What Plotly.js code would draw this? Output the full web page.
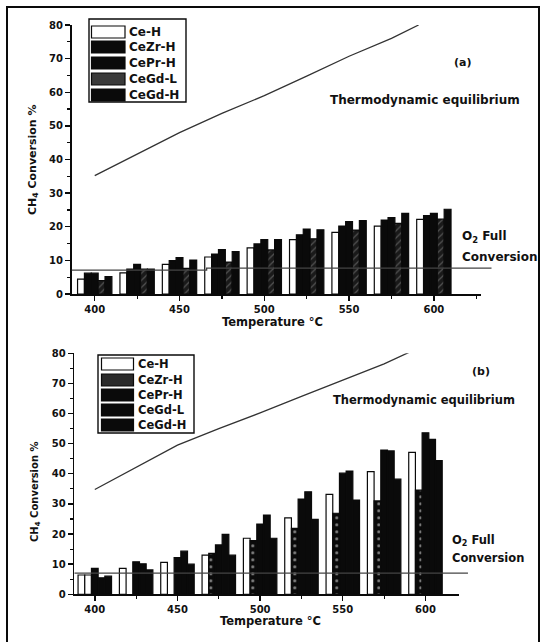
<!DOCTYPE html>
<html>
<head>
<meta charset="utf-8">
<script src="https://cdn.plot.ly/plotly-3.0.1.min.js"></script>
<style>html,body{margin:0;padding:0;background:#fff;}#chart{width:547px;height:642px;}</style>
</head>
<body>
<div id="chart"></div>
<script>
// ---------- data ----------
const temps = [400, 425, 450, 475, 500, 525, 550, 575, 600];
const seriesNames = ["Ce-H", "CeZr-H", "CePr-H", "CeGd-L", "CeGd-H"];

// panel (a)
const a_CeH   = [4.4, 6.3, 8.8, 11.0, 13.7, 16.2, 18.3, 20.2, 22.2];
const a_CeZrH = [6.2, 7.4, 9.9, 11.9, 14.9, 17.6, 20.2, 22.0, 23.3];
const a_CePrH = [6.2, 8.8, 10.8, 13.2, 16.2, 19.3, 21.5, 22.7, 24.0];
const a_CeGdL = [4.0, 7.4, 7.6, 9.5, 13.1, 16.4, 19.0, 21.0, 22.3];
const a_CeGdH = [5.2, 7.4, 10.1, 12.6, 16.2, 19.1, 21.8, 24.0, 25.2];

// panel (b)
const b_CeH   = [6.4, 8.6, 10.6, 13.0, 18.6, 25.4, 33.2, 40.7, 47.1];
const b_CeZrH = [6.4, null, null, 13.6, 17.8, 21.9, 26.9, 31.0, 34.6];
const b_CePrH = [8.6, 10.8, 12.2, 16.4, 23.3, 31.6, 40.2, 47.9, 53.6];
const b_CeGdL = [5.5, 10.1, 14.3, 19.9, 26.3, 34.0, 40.9, 47.6, 51.4];
const b_CeGdH = [6.0, 8.1, 10.0, 13.0, 18.6, 24.9, 31.3, 38.2, 44.4];

// thermodynamic equilibrium curves
const a_thermoT = [400, 425, 450, 475, 500, 525, 550, 575, 591];
const a_thermoV = [35.2, 41.7, 48.0, 53.7, 59.0, 64.8, 70.7, 76.0, 80.0];
const b_thermoT = [400, 425, 450, 475, 500, 525, 550, 575, 590];
const b_thermoV = [34.8, 42.2, 49.5, 55.0, 60.2, 65.7, 71.1, 76.5, 80.3];

// O2 full conversion lines
const a_o2T = [386.3, 466, 466, 634];
const a_o2V = [7.1, 7.1, 7.7, 7.7];
const b_o2T = [387.6, 625.7];
const b_o2V = [7.0, 7.0];

// ---------- helpers ----------
const W = 547, H = 642;
const px = v => v / W;
const py = v => 1 - v / H;
const FONT = "DejaVu Sans, Liberation Sans, Arial, sans-serif";
const BLACK = "#0a0a0a";

function bar(name, x, y, xa, ya, fill, pattern) {
  const t = {
    type: "bar", name: name, x: x, y: y, xaxis: xa, yaxis: ya,
    showlegend: false,
    marker: { color: fill, line: { color: BLACK, width: 1.2 } },
    hoverinfo: "x+y+name"
  };
  if (pattern) t.marker.pattern = pattern;
  return t;
}

const zebra = temps.map((t, i) => i === 0 ? "white" : BLACK);
const dotShape = temps.map((t, i) => i === 0 ? "" : ".");

const traces = [
  bar("Ce-H", temps, a_CeH, "x", "y", "white"),
  bar("CeZr-H", temps, a_CeZrH, "x", "y", BLACK),
  bar("CePr-H", temps, a_CePrH, "x", "y", BLACK),
  bar("CeGd-L", temps, a_CeGdL, "x", "y", "#1a1a1a", { shape: "/", fgcolor: "#8a8a8a", fillmode: "overlay", size: 5, solidity: 0.25 }),
  bar("CeGd-H", temps, a_CeGdH, "x", "y", BLACK),
  { type: "scatter", mode: "lines", x: a_thermoT, y: a_thermoV, xaxis: "x", yaxis: "y", showlegend: false,
    line: { color: "#333", width: 1.3 }, name: "Thermodynamic equilibrium" },
  { type: "scatter", mode: "lines", x: a_o2T, y: a_o2V, xaxis: "x3", yaxis: "y3", showlegend: false,
    line: { color: "#444", width: 1.3 }, name: "O2 Full Conversion" },

  bar("Ce-H", temps, b_CeH, "x2", "y2", "white"),
  bar("CeZr-H", temps, b_CeZrH, "x2", "y2", zebra,
      { shape: dotShape, fgcolor: "#808080", fillmode: "overlay", size: 7, solidity: 0.15 }),
  bar("CePr-H", temps, b_CePrH, "x2", "y2", BLACK),
  bar("CeGd-L", temps, b_CeGdL, "x2", "y2", BLACK),
  bar("CeGd-H", temps, b_CeGdH, "x2", "y2", BLACK),
  { type: "scatter", mode: "lines", x: b_thermoT, y: b_thermoV, xaxis: "x2", yaxis: "y2", showlegend: false,
    line: { color: "#333", width: 1.3 }, name: "Thermodynamic equilibrium" },
  { type: "scatter", mode: "lines", x: b_o2T, y: b_o2V, xaxis: "x4", yaxis: "y4", showlegend: false,
    line: { color: "#444", width: 1.3 }, name: "O2 Full Conversion" }
];

const tickfont = { family: FONT, size: 10, color: "#111", weight: "bold" };
function xAxis(domain, range, anchor) {
  return {
    domain: domain, range: range, anchor: anchor,
    showline: true, linecolor: BLACK, linewidth: 1.6,
    ticks: "outside", ticklen: 5, tickwidth: 1.4, tickcolor: BLACK,
    tick0: 400, dtick: 50, tickfont: tickfont,
    minor: { ticks: "outside", dtick: 25, ticklen: 3, tickwidth: 1.2, tickcolor: BLACK },
    showgrid: false, zeroline: false, fixedrange: true
  };
}
function yAxis(domain, anchor) {
  return {
    domain: domain, range: [0, 80], anchor: anchor,
    showline: true, linecolor: BLACK, linewidth: 1.6,
    ticks: "outside", ticklen: 5, tickwidth: 1.4, tickcolor: BLACK,
    tick0: 0, dtick: 10, tickfont: tickfont,
    minor: { ticks: "outside", dtick: 5, ticklen: 3, tickwidth: 1.2, tickcolor: BLACK },
    showgrid: false, zeroline: false, fixedrange: true
  };
}
// invisible helper axes (same scale) so the O2 reference lines can run past the axis end
function hiddenAxis(domain, range, anchor) {
  return { domain: domain, range: range, anchor: anchor, visible: false, fixedrange: true,
           showgrid: false, zeroline: false };
}

function txt(text, x, y, size, opts) {
  return Object.assign({
    text: text, x: px(x), y: py(y), xref: "paper", yref: "paper",
    showarrow: false, xanchor: "center", yanchor: "middle",
    font: { family: FONT, size: size, color: "#111" }
  }, opts || {});
}

const annotations = [
  // panel (a)
  txt("<b>CH<sub>4</sub> Conversion %</b>", 33, 160, 11, { textangle: -90 }),
  txt("<b>Temperature °C</b>", 272, 322, 11.5),
  txt("<b>(a)</b>", 462, 62, 11),
  txt("<b>Thermodynamic equilibrium</b>", 425, 100, 12),
  txt("<b>O<sub>2</sub> Full</b>", 460, 237, 12, { xanchor: "left" }),
  txt("<b>Conversion</b>", 460, 257, 12, { xanchor: "left" }),
  // panel (b)
  txt("<b>CH<sub>4</sub> Conversion %</b>", 35, 492, 10, { textangle: -90 }),
  txt("<b>Temperature °C</b>", 270, 621, 11.5),
  txt("<b>(b)</b>", 481, 372, 11),
  txt("<b>Thermodynamic equilibrium</b>", 424, 400, 11.5),
  txt("<b>O<sub>2</sub> Full</b>", 450, 540, 11.5, { xanchor: "left" }),
  txt("<b>Conversion</b>", 450, 558, 11.5, { xanchor: "left" })
];

const shapes = [
  // outer frame
  { type: "rect", xref: "paper", yref: "paper", x0: px(7), x1: px(539), y0: py(660), y1: py(7),
    line: { color: BLACK, width: 2 }, fillcolor: "rgba(0,0,0,0)", layer: "below" }
];

// manual legends (wide swatches like the original)
const legendFills = {
  a: ["white", BLACK, BLACK, "#3a3a3a", BLACK],
  b: ["white", "#2a2a2a", BLACK, BLACK, BLACK]
};
function addLegend(key, box, swX0, swX1, rows, textX, size) {
  shapes.push({ type: "rect", xref: "paper", yref: "paper", x0: px(box[0]), x1: px(box[1]), y0: py(box[3]), y1: py(box[2]),
    line: { color: BLACK, width: 1.4 }, fillcolor: "white" });
  seriesNames.forEach((n, i) => {
    shapes.push({ type: "rect", xref: "paper", yref: "paper",
      x0: px(swX0), x1: px(swX1), y0: py(rows[i] + 6), y1: py(rows[i] - 6),
      line: { color: BLACK, width: 1.2 }, fillcolor: legendFills[key][i] });
    annotations.push(txt("<b>" + n + "</b>", textX, rows[i], size, { xanchor: "left" }));
  });
}
addLegend("a", [89, 186, 19, 102], 91.5, 125, [32, 47, 63, 79, 95], 126.5, 12);
addLegend("b", [98, 194, 355, 433], 101.5, 133.5, [364, 380, 395, 410, 425], 135.5, 11.5);

// scale-preserving extension of the x ranges for the helper axes
const aX0 = 71.5, aX1 = 481, aXe = 492, aR = [386.3, 627.8];
const bX0 = 74.3, bX1 = 458.7, bXe = 469, bR = [387.6, 620.1];
const ext = (r, x0, x1, xe) => [r[0], r[0] + (r[1] - r[0]) * (xe - x0) / (x1 - x0)];

const layout = {
  width: W, height: H,
  margin: { l: 0, r: 0, t: 0, b: 0 },
  paper_bgcolor: "white", plot_bgcolor: "rgba(0,0,0,0)",
  barmode: "group", bargap: 0.19, bargroupgap: 0,
  showlegend: false,
  xaxis: xAxis([px(aX0), px(aX1)], aR, "y"),
  yaxis: yAxis([py(294), py(25)], "x"),
  xaxis2: xAxis([px(bX0), px(bX1)], bR, "y2"),
  yaxis2: yAxis([py(594.3), py(353.3)], "x2"),
  xaxis3: hiddenAxis([px(aX0), px(aXe)], ext(aR, aX0, aX1, aXe), "y3"),
  yaxis3: hiddenAxis([py(294), py(25)], [0, 80], "x3"),
  xaxis4: hiddenAxis([px(bX0), px(bXe)], ext(bR, bX0, bX1, bXe), "y4"),
  yaxis4: hiddenAxis([py(594.3), py(353.3)], [0, 80], "x4"),
  annotations: annotations,
  shapes: shapes
};
layout.yaxis3.range = [0, 80];
layout.yaxis4.range = [0, 80];

Plotly.newPlot("chart", traces, layout, { staticPlot: true, displayModeBar: false });
</script>
</body>
</html>
